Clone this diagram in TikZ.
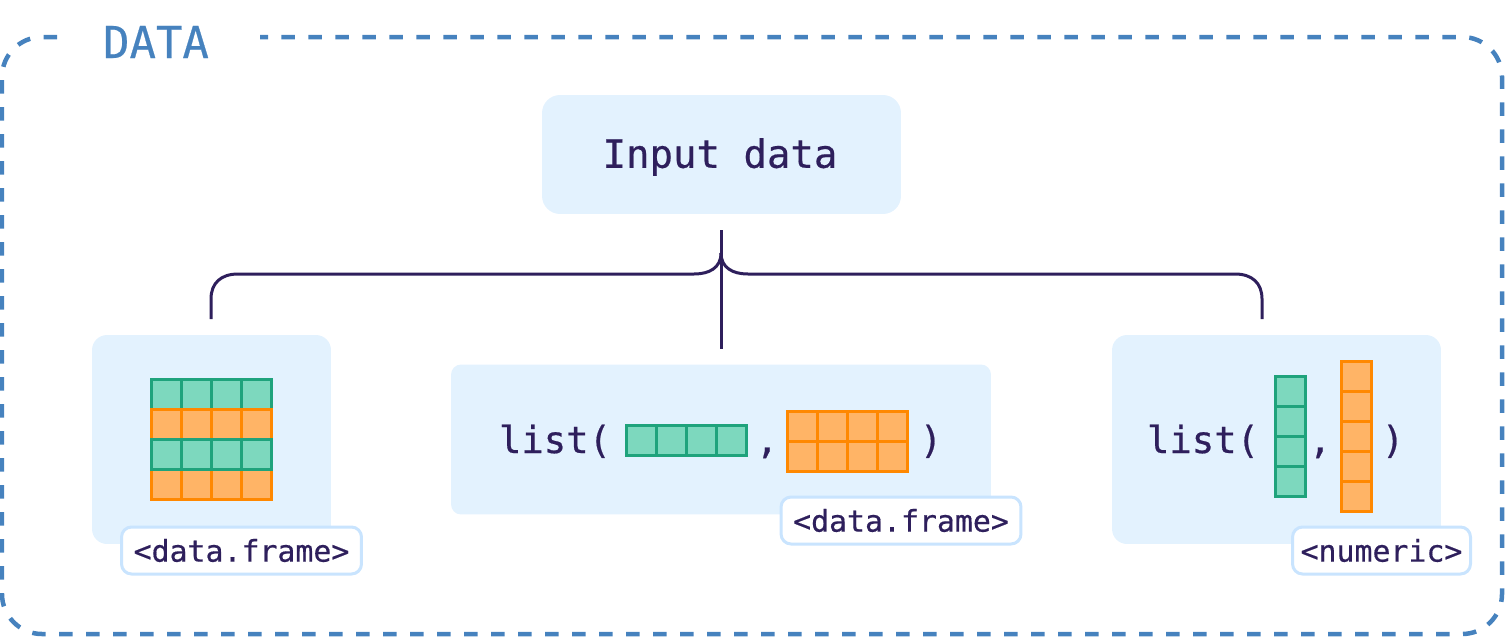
\documentclass[tikz,border=0pt]{standalone}
\usepackage{fontspec}
\setmonofont[RawFeature={embolden=0.5}]{DejaVu Sans Mono}
\definecolor{inkdark}{HTML}{2E1F5C}
\definecolor{framebl}{HTML}{4682BE}
\definecolor{panelbg}{HTML}{E3F2FE}
\definecolor{tagline}{HTML}{C9E4FE}
\definecolor{greenln}{HTML}{1FA37C}
\definecolor{greenbg}{HTML}{7DD8BE}
\definecolor{orangeln}{HTML}{FF8800}
\definecolor{orangebg}{HTML}{FFB466}
\usetikzlibrary{positioning}

% one block of square cells: left, top, columns, rows, style
\newcommand{\cellblock}[5]{
  \foreach \cc in {1,...,#3} \foreach \rr in {1,...,#4}
    \draw[#5] ({#1+30*(\cc-1)},{#2+30*(\rr-1)}) rectangle ++(30,30);
}

\begin{document}
\begin{tikzpicture}[
      x=0.02cm, y=-0.02cm,
      panel/.style={fill=panelbg, inner sep=0pt},
      tag/.style={draw=tagline, fill=white, line width=0.06cm, rounded corners=0.2cm,
                  inner sep=0pt, minimum height=0.94cm,
                  text=inkdark, font=\ttfamily\fontsize{17}{20}\selectfont},
      code/.style={text=inkdark, inner sep=0pt, anchor=base,
                   font=\ttfamily\fontsize{21.2}{25}\selectfont},
      conn/.style={draw=inkdark, line width=0.06cm},
      cellg/.style={draw=greenln, fill=greenbg, line width=0.06cm},
      cello/.style={draw=orangeln, fill=orangebg, line width=0.06cm}
  ]
    \useasboundingbox (0,0) rectangle (1506,636);

    % frame round everything, open behind the title
    \coordinate (frstart) at (57,37);
    \coordinate (frend) at (260,37);
    \draw[framebl, line width=0.09cm, dash pattern=on 0.27cm off 0.27cm, rounded corners=0.8cm]
      (frstart) -- (2,37) -- (2,634) -- (1502,634) -- (1502,37) -- (frend);
    \node[text=framebl, inner sep=0pt, font=\ttfamily\fontsize{25}{29}\selectfont] (title) at (156,42) {DATA};

    \node[panel, rounded corners=0.36cm, minimum width=7.18cm, minimum height=2.38cm] (input) at (721.5,154.5) {};
    \node[text=inkdark, inner sep=0pt, font=\ttfamily\fontsize{22.2}{26}\selectfont] (inputtxt) at (720,157) {Input data};

    \node[panel, rounded corners=0.3cm, minimum width=4.78cm, minimum height=4.18cm] (dfbox) at (211.5,439.5) {};
    \node[panel, rounded corners=0.2cm, minimum width=10.8cm, minimum height=3cm] (lstbox) at (721,439.5) {};
    \node[panel, rounded corners=0.3cm, minimum width=6.58cm, minimum height=4.18cm] (numbox) at (1276.5,439.5) {};

    % bracket
    \coordinate (brtop) at (721,230);
    \coordinate (brjoin) at (721,253);
    \coordinate (brmid) at (721,349);
    \coordinate (brleft) at (211,319);
    \coordinate (brright) at (1262,319);
    \draw[conn] (brtop) -- (brmid);
    \draw[conn] (brleft) -- (211,299) .. controls (211,283) and (221,274) .. (238,274) -- (694,274)
      .. controls (709,274) and (721,268) .. (brjoin);
    \draw[conn] (brright) -- (1262,299) .. controls (1262,283) and (1252,274) .. (1235,274) -- (748,274)
      .. controls (733,274) and (721,268) .. (brjoin);

    % data.frame
    \cellblock{151.5}{379.5}{4}{1}{cellg}
    \cellblock{151.5}{409.5}{4}{1}{cello}
    \cellblock{151.5}{469.5}{4}{1}{cello}
    \cellblock{151.5}{439.5}{4}{1}{cellg}
    \node[tag, minimum width=4.8cm] (dftag) at (241.5,550.5) {<data.frame>};

    % list of data.frames
    \node[code] (lstopen) at (555,453) {list(};
    \cellblock{626.5}{425.5}{4}{1}{cellg}
    \node[code] (lstcomma) at (767,453) {,};
    \cellblock{787.5}{411}{4}{2}{cello}
    \node[code] (lstclose) at (931,453) {)};
    \node[tag, minimum width=4.8cm] (lsttag) at (901,520.5) {<data.frame>};

    % list of numerics
    \node[code] (numopen) at (1203,453) {list(};
    \cellblock{1275.5}{376.5}{1}{4}{cellg}
    \node[code] (numcomma) at (1320,453) {,};
    \cellblock{1341.5}{361.5}{1}{5}{cello}
    \node[code] (numclose) at (1393,453) {)};
    \node[tag, minimum width=3.56cm] (numtag) at (1381.5,550.5) {<numeric>};
  \end{tikzpicture}
\end{document}
